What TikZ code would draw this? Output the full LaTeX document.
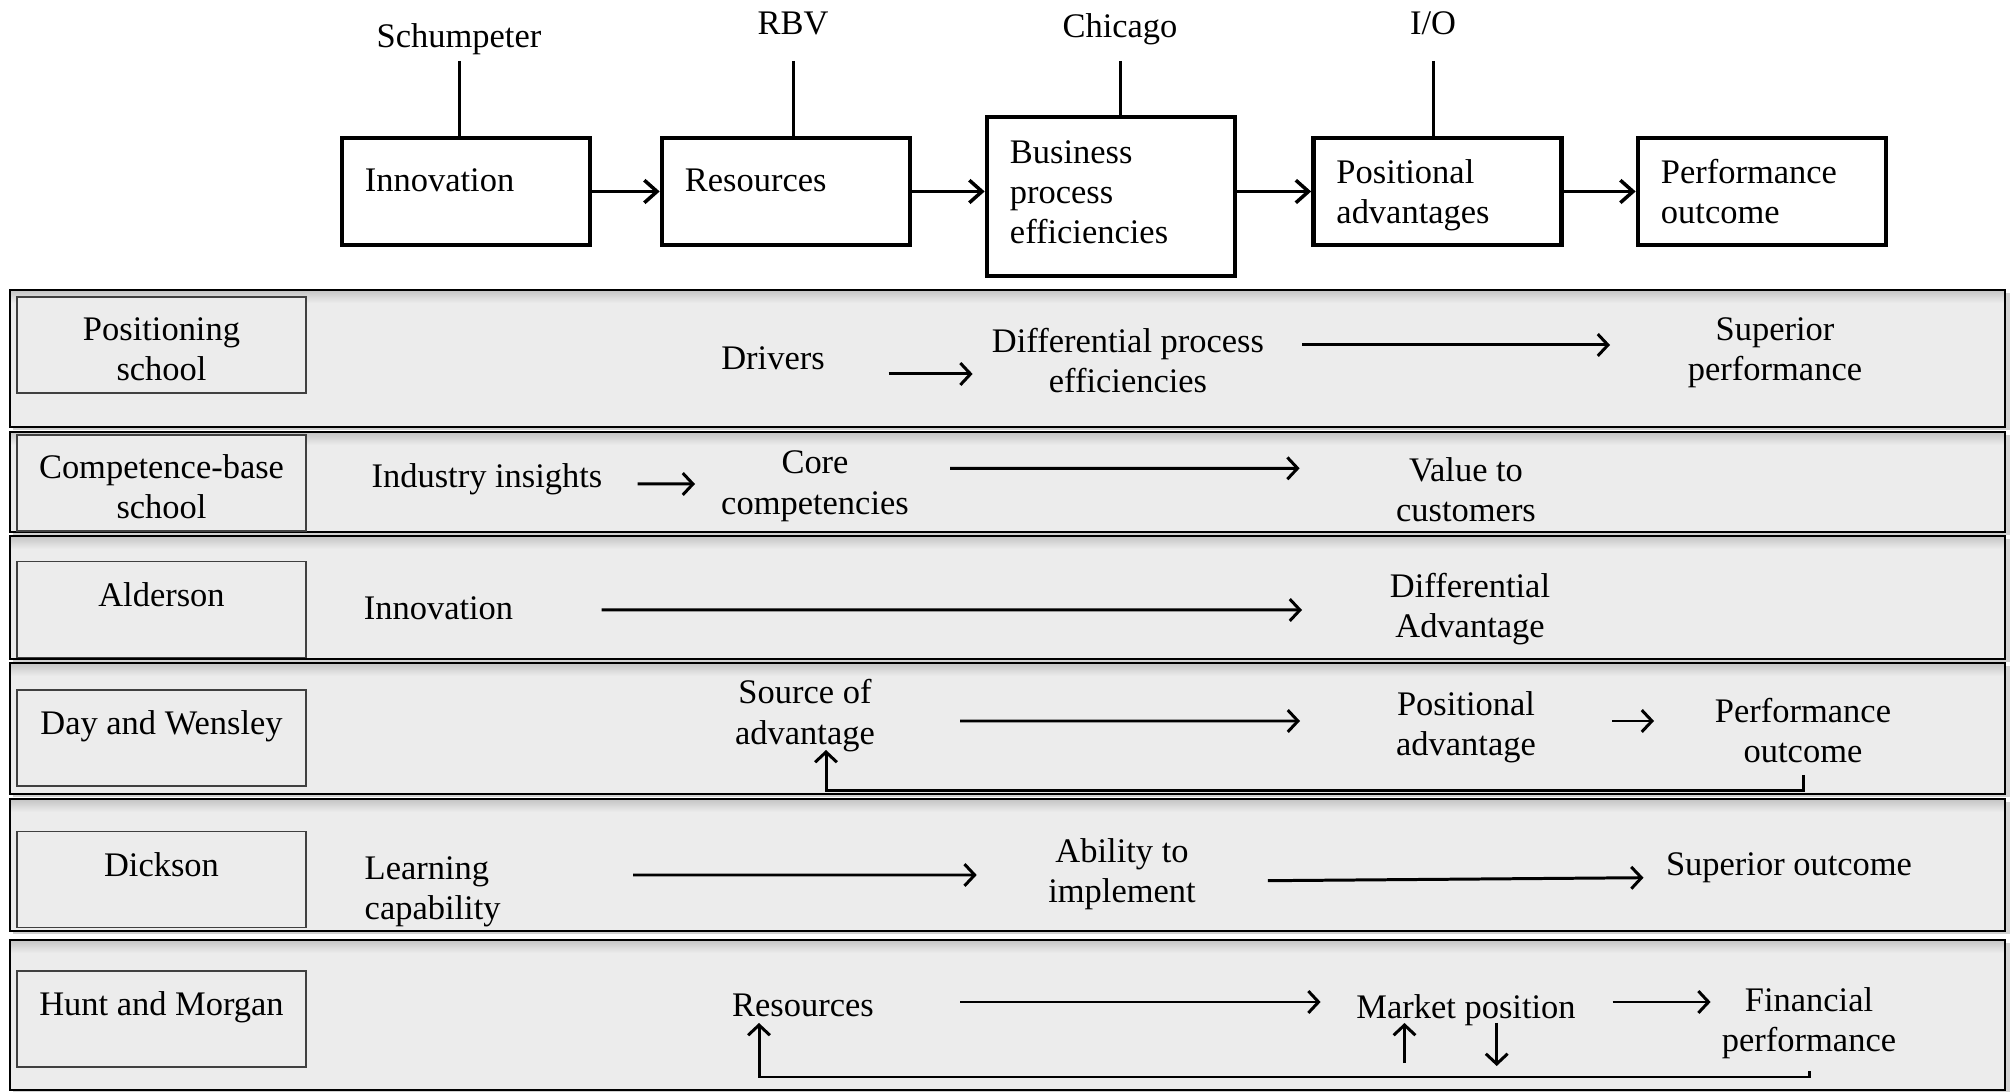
\documentclass[tikz,border=0pt]{standalone}
\usepackage{fontspec}
\setmainfont{Liberation Serif}
\usetikzlibrary{arrows.meta,calc}
\definecolor{bandgray}{HTML}{ECECEC}
\definecolor{bandshade}{HTML}{C4C4C4}

\begin{document}
\begin{tikzpicture}[x=0.01cm,y=-0.01cm,
  font=\fontsize{9.8pt}{11.4pt}\selectfont,
  topbox/.style={draw,line width=1.3pt,fill=white,minimum width=2.48cm,
    minimum height=1.07cm,text width=2.02cm,inner xsep=0.23cm,align=left},
  oneline/.style={text depth=6.6pt},
  school/.style={draw=black!75,line width=0.45pt,fill=bandgray,
    minimum width=2.89cm,minimum height=0.96cm,inner sep=0pt,align=center},
  schoolone/.style={text depth=8.6pt},
  schooltwo/.style={text height=20.4pt},
  item/.style={inner sep=0pt,align=center},
  tag/.style={inner sep=0pt,anchor=base},
  stem/.style={line width=0.85pt},
  toparrow/.style={line width=1pt,-{Straight Barb[length=3.6pt,width=6.4pt,line width=1pt]}},
  arr/.style={line width=0.85pt,-{Straight Barb[length=2.9pt,width=6.2pt,line width=0.85pt]}},
  bandline/.style={draw=black,line width=0.55pt}
]
\useasboundingbox (0,0) rectangle (2015,1092);

% ---------- schools of thought: horizontal bands ----------
\foreach \t/\b in {290/427, 432/532, 536/659, 663/794, 799/931, 940/1090}{
  \fill[black!18] (13,\t+3) rectangle (2010,\b+3);
  \fill[bandgray] (10,\t) rectangle (2005,\b);
  \shade[top color=bandshade,bottom color=bandgray] (10,\t) rectangle (2005,\t+13);
  \draw[bandline] (10,\t) rectangle (2005,\b);
}

% ---------- top chain ----------
\node[topbox,oneline] (inn) at (466,191.5) {Innovation};
\node[topbox,oneline] (res) at (786,191.5) {Resources};
\node[topbox,minimum height=1.59cm,text depth=25.4pt] (bus) at (1111,196.5)
  {Business\\process\\efficiencies};
\node[topbox,text depth=11.4pt] (pos) at (1437.5,191.5) {Positional\\advantages};
\node[topbox] (perf) at (1762,191.5) {Performance\\outcome};

\draw[toparrow] (inn.east) -- (res.west);
\draw[toparrow] (res.east) -- (res.east -| bus.west);
\draw[toparrow] (pos.west -| bus.east) -- (pos.west);
\draw[toparrow] (pos.east) -- (perf.west);

\node[tag] (schum) at (459,48) {Schumpeter};
\node[tag] (rbv) at (793,35) {RBV};
\node[tag] (chi) at (1120,38) {Chicago};
\node[tag] (io) at (1433,34.5) {I/O};

\draw[stem] (schum.south |- 0,61) -- (schum.south |- inn.north);
\draw[stem] (rbv.south |- 0,61) -- (rbv.south |- res.north);
\draw[stem] (chi.south |- 0,61) -- (chi.south |- bus.north);
\draw[stem] (io.south |- 0,61) -- (io.south |- pos.north);

% ---------- school labels ----------
\node[school,schooltwo] (s1) at (161.5,345) {Positioning\\school};
\node[school,schooltwo] (s2) at (161.5,483) {Competence-base\\school};
\node[school,schoolone] (s3) at (161.5,609.5) {Alderson};
\node[school,schoolone] (s4) at (161.5,738) {Day and Wensley};
\node[school,schoolone] (s5) at (161.5,879.5) {Dickson};
\node[school,schoolone] (s6) at (161.5,1019) {Hunt and Morgan};

% ---------- positioning school ----------
\node[item] (drv) at (773,358) {Drivers};
\node[item] (dpe) at (1128,360.5) {Differential process\\efficiencies};
\node[item] (supp) at (1775,353) {Superior\\performance};
\draw[arr] ($(drv)+(115.7,16)$) -- ($(dpe)+(-155.4,13.5)$);
\draw[arr] ($(dpe)+(174,-15.5)$) -- ($(supp)+(-165,-8)$);

% ---------- competence-base school ----------
\node[item] (ind) at (487,479.6) {Industry insights};
\node[item] (core) at (815,486.3) {Core\\competencies};
\node[item] (val) at (1466,489.5) {Value to\\customers};
\draw[arr] ($(ind)+(150.5,4.4)$) -- ($(core)+(-120,-2.3)$);
\draw[arr] ($(core)+(135,-18)$) -- ($(val)+(-166.4,-21.2)$);

% ---------- Alderson ----------
\node[item] (inn3) at (438.5,608) {Innovation};
\node[item] (dadv) at (1470,608.9) {Differential\\Advantage};
\draw[arr] ($(inn3)+(163.1,2)$) -- ($(dadv)+(-168,1.1)$);

% ---------- Day and Wensley ----------
\node[item] (soa) at (805,715.6) {Source of\\advantage};
\node[item] (posa) at (1466,727.6) {Positional\\advantage};
\node[item] (pout) at (1803,730.2) {Performance\\outcome};
\draw[arr] ($(soa)+(155,5.4)$) -- ($(posa)+(-166,-6.6)$);
\draw[arr] ($(posa)+(146,-6.6)$) -- ($(pout)+(-149,-9.2)$);
\draw[arr] ($(pout)+(0.6,44.8)$) -- ($(pout)+(0.6,60.3)$) -| ($(soa)+(21,34.4)$);

% ---------- Dickson ----------
\node[item,align=left,anchor=west] (learn) at (364,891.4) {Learning\\capability};
\node[item] (abil) at (1122,874.3) {Ability to\\implement};
\node[item] (supo) at (1789,867.9) {Superior outcome};
\draw[arr] ($(learn.west)+(269,-16.4)$) -- ($(abil)+(-145.3,0.7)$);
\draw[arr] ($(abil)+(145.8,6.4)$) -- ($(supo)+(-145.5,9.8)$);

% ---------- Hunt and Morgan ----------
\node[item] (res6) at (803,1005) {Resources};
\node[item] (mkt) at (1466,1010.6) {Market position};
\node[item] (fin) at (1809,1023.5) {Financial\\performance};
\draw[arr] ($(res6)+(157,-3)$) -- ($(mkt)+(-145.4,-8.6)$);
\draw[arr] ($(mkt)+(146.5,-8.6)$) -- ($(fin)+(-98.4,-21.5)$);
\draw[arr] ($(mkt)+(-61.5,52.4)$) -- ($(mkt)+(-61.5,12.4)$);
\draw[arr] ($(mkt)+(30.7,12.4)$) -- ($(mkt)+(30.7,55.4)$);
\draw[arr] ($(fin)+(0,47.5)$) -- ($(fin)+(0,53.5)$) -| ($(res6)+(-44,18)$);
\end{tikzpicture}
\end{document}
